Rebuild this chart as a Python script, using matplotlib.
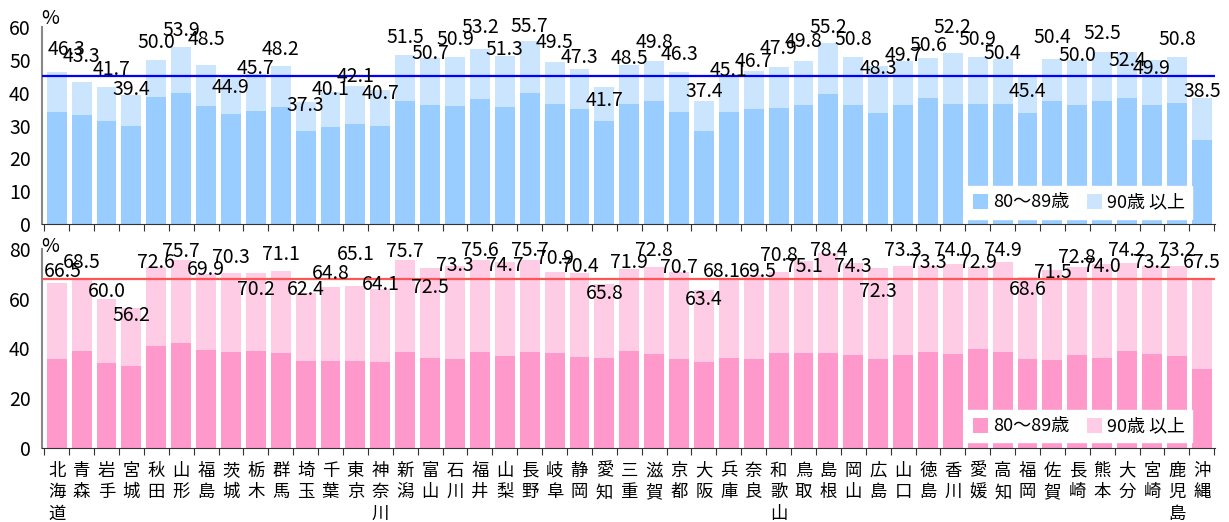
import matplotlib
matplotlib.use("Agg")
from matplotlib import pyplot as plt
from matplotlib import font_manager
import numpy as np

prefs = ["北海道", "青森", "岩手", "宮城", "秋田", "山形", "福島", "茨城", "栃木", "群馬",
         "埼玉", "千葉", "東京", "神奈川", "新潟", "富山", "石川", "福井", "山梨", "長野",
         "岐阜", "静岡", "愛知", "三重", "滋賀", "京都", "大阪", "兵庫", "奈良", "和歌山",
         "鳥取", "島根", "岡山", "広島", "山口", "徳島", "香川", "愛媛", "高知", "福岡",
         "佐賀", "長崎", "熊本", "大分", "宮崎", "鹿児島", "沖縄"]

# top panel: totals (80+) and 80-89 part
top_total = [46.3, 43.3, 41.7, 39.4, 50.0, 53.9, 48.5, 44.9, 45.7, 48.2,
             37.3, 40.1, 42.1, 40.7, 51.5, 50.7, 50.9, 53.2, 51.3, 55.7,
             49.5, 47.3, 41.7, 48.5, 49.8, 46.3, 37.4, 45.1, 46.7, 47.9,
             49.8, 55.2, 50.8, 48.3, 49.7, 50.6, 52.2, 50.9, 50.4, 45.4,
             50.4, 50.0, 52.5, 52.4, 49.9, 50.8, 38.5]
top_8089 = [34.0, 33.1, 31.5, 30.0, 38.6, 39.8, 36.1, 33.4, 34.3, 35.8,
            28.2, 29.7, 30.6, 30.0, 37.6, 36.4, 36.1, 38.0, 35.8, 39.8,
            36.7, 34.9, 31.5, 36.7, 37.6, 34.0, 28.2, 34.0, 34.9, 35.5,
            36.4, 39.5, 36.4, 33.7, 36.4, 38.3, 36.7, 36.7, 36.7, 33.7,
            37.6, 36.4, 37.6, 38.3, 36.4, 37.0, 25.7]
top_avg = 45.0

# bottom panel
bot_total = [66.5, 68.5, 60.0, 56.2, 72.6, 75.7, 69.9, 70.3, 70.2, 71.1,
             62.4, 64.8, 65.1, 64.1, 75.7, 72.5, 73.3, 75.6, 74.7, 75.7,
             70.9, 70.4, 65.8, 71.9, 72.8, 70.7, 63.4, 68.1, 69.5, 70.8,
             75.1, 78.4, 74.3, 72.3, 73.3, 73.3, 74.0, 72.9, 74.9, 68.6,
             71.5, 72.8, 74.0, 74.2, 73.2, 73.2, 67.5]
bot_8089 = [35.9, 39.1, 34.3, 33.1, 41.1, 42.3, 39.5, 38.7, 39.1, 38.3,
            35.1, 35.1, 35.1, 34.7, 38.7, 36.3, 35.9, 38.7, 37.1, 38.7,
            38.3, 36.7, 36.3, 39.1, 37.9, 35.9, 34.7, 36.3, 35.9, 38.3,
            38.3, 38.3, 37.5, 35.9, 37.5, 38.7, 37.9, 39.9, 38.7, 35.9,
            35.5, 37.5, 36.3, 39.1, 37.9, 37.1, 31.9]
bot_avg = 67.9

# label vertical nudges (data units), as placed in the source chart
top_dy = [6.9, 7.9, 5.5, 1.7, 5.3, 5.1, 7.8, -3.3, 1.7, 5.1,
          -1.3, 0.8, 2.7, -0.8, 5.4, 1.2, 5.2, 6.6, 1.8, 4.4,
          5.7, 3.4, -4.1, 1.8, 5.6, 5.4, 3.1, 1.8, 2.8, 5.6,
          5.9, 4.7, 5.4, -1.0, 1.8, 3.9, 7.7, 5.2, 1.6, -5.1,
          6.5, 1.5, 5.6, -2.5, -2.5, 5.4, 2.0]
bot_dy = [4.4, 6.0, 2.9, -3.1, 2.1, 3.3, 2.0, 6.4, -6.6, 6.6,
          1.2, 5.5, 12.6, 1.5, 3.3, -7.9, 0.0, 3.7, -1.5, 3.7,
          5.4, 2.5, -3.6, 2.8, 6.6, 2.0, -3.9, 2.8, 1.5, 6.4,
          -2.1, 0.9, -1.3, -9.4, 6.0, 1.3, 5.4, 1.7, 4.4, -5.0,
          -0.9, 3.9, -1.1, 5.2, 1.5, 6.2, 7.2]
# a few labels were also pushed sideways
top_dx = {0: 0.4, 2: 0.2}
bot_dx = {0: 0.25, 27: -0.3, 28: 0.15}

legend_labels = ["80～89歳", "90歳 以上"]

names = {f.name for f in font_manager.fontManager.ttflist}
num_font = ["Liberation Sans Narrow", "Noto Sans CJK JP"] if "Liberation Sans Narrow" in names else ["Noto Sans CJK JP"]
plt.rcParams["font.family"] = ["Noto Sans CJK JP", "DejaVu Sans"]

fig = plt.figure(figsize=(12.29, 5.22), dpi=100)
ax1 = fig.add_axes([0.034, 0.571, 0.955, 0.377])
ax2 = fig.add_axes([0.034, 0.142, 0.955, 0.381])

x = np.arange(len(prefs))


def panel(ax, total, part, avg, dy, dx, c_dark, c_light, c_line, ymax, ystep, pct_off):
    total = np.array(total)
    part = np.array(part)
    ax.bar(x, part, width=0.8, color=c_dark, label=legend_labels[0], zorder=2)
    ax.bar(x, total - part, bottom=part, width=0.8, color=c_light, label=legend_labels[1], zorder=2)
    ax.axhline(avg, color=c_line, lw=1.6, zorder=3)
    for i, v in enumerate(total):
        ax.text(x[i] + dx.get(i, 0), v + dy[i], f"{v:.1f}", ha="center", va="center",
                fontsize=14, family=num_font, zorder=4)
    ax.set_xlim(-0.6, len(prefs) - 0.45)
    ax.set_ylim(0, ymax)
    ax.set_yticks(np.arange(0, ymax + 1, ystep))
    ax.tick_params(axis="y", length=0, labelsize=14, pad=8)
    for lab in ax.get_yticklabels():
        lab.set_family(num_font)
    ax.set_xticks(np.arange(len(prefs) + 1) - 0.5)
    ax.set_xticklabels([])
    ax.tick_params(axis="x", which="major", length=5, color="#333333", direction="out")
    for s in ["top", "right"]:
        ax.spines[s].set_visible(False)
    ax.spines["left"].set_color("#888888")
    ax.spines["left"].set_linewidth(1.5)
    ax.spines["bottom"].set_color("#333333")
    ax.annotate("%", xy=(-0.25, ymax), xytext=(0, pct_off), textcoords="offset points",
                fontsize=14, family=num_font, ha="center", va="center", annotation_clip=False)
    leg = ax.legend(loc="lower right", bbox_to_anchor=(0.985, 0.0), ncol=2, frameon=True,
                    fontsize=13, handlelength=0.8, handleheight=0.9, handletextpad=0.3,
                    columnspacing=1.0, borderpad=0.4, fancybox=False, borderaxespad=0.3)
    leg.get_frame().set_edgecolor("white")
    leg.get_frame().set_facecolor("white")
    leg.get_frame().set_alpha(1.0)
    leg.set_zorder(5)


panel(ax1, top_total, top_8089, top_avg, top_dy, top_dx, "#99CCFF", "#CCE5FF", "#0000FF", 60, 10, 6.5)
panel(ax2, bot_total, bot_8089, bot_avg, bot_dy, bot_dx, "#FF99CC", "#FFCCE5", "#FF5555", 80, 20, 2)

ax2.set_xticks(x, minor=True)
ax2.set_xticklabels(["\n".join(p) for p in prefs], minor=True, fontsize=12.5, linespacing=1.25,
                    va="top")
ax2.tick_params(axis="x", which="minor", length=0, pad=10)

fig.savefig("out.png", dpi=100)
